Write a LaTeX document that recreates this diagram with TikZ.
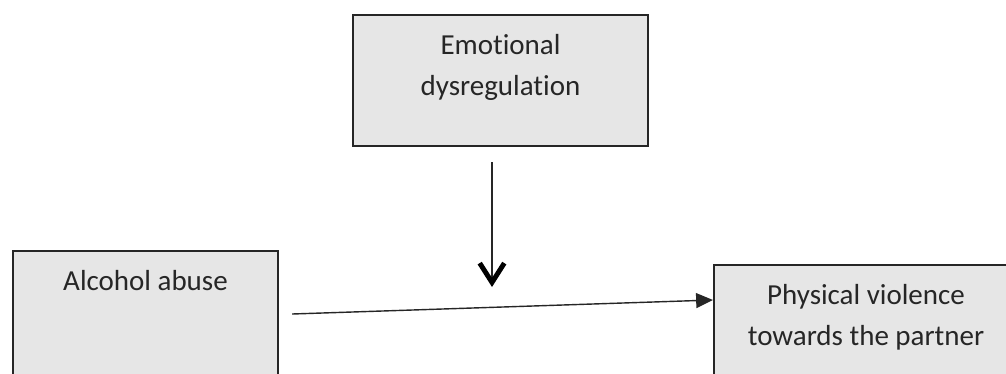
\documentclass[tikz,border=0pt]{standalone}
\usepackage{fontspec}
\setmainfont{Carlito}[Ligatures=NoCommon]
\usetikzlibrary{arrows.meta}
\usetikzlibrary{calc}

\definecolor{boxfill}{HTML}{E6E6E6}
\definecolor{boxline}{HTML}{262626}
\definecolor{inkgray}{HTML}{262626}

\begin{document}
\begin{tikzpicture}[x=0.02cm,y=-0.02cm,
  box/.style={draw=boxline,fill=boxfill,line width=1.2pt,anchor=north west,inner sep=0pt},
  boxtext/.style={anchor=north,yshift=-0.4cm,inner sep=0pt,align=center,text=inkgray,
    font=\fontsize{16.5}{23.3}\selectfont},
  effect/.style={draw=inkgray,line width=0.8pt,-{Triangle[length=9.6pt,width=8.5pt]}},
  moderate/.style={draw=inkgray,line width=0.9pt,-{Straight Barb[length=11pt,width=14pt,line width=2.8pt,color=black]}}]
  \useasboundingbox (0,0) rectangle (1006,373);
  \clip (0,0) rectangle (1006,373);

  \node (emo) at (352,14)[box,minimum width=5.9cm,minimum height=2.62cm,label={[boxtext]north:{Emotional\\dysregulation}}]{};
  \node (alc) at (12,250)[box,minimum width=5.3cm,minimum height=3cm,label={[boxtext]north:Alcohol abuse}]{};
  \node (vio) at (713,264)[box,minimum width=6.08cm,minimum height=2.8cm,label={[boxtext]north:{Physical violence\\towards the partner}}]{};

  \coordinate (mid) at (492,287);

  \draw[effect]($(alc.north east)+(13,64)$)--($(vio.north west)+(0,36)$);
  \draw[moderate](emo.south -| mid)++(0,15)--(mid);
\end{tikzpicture}
\end{document}
